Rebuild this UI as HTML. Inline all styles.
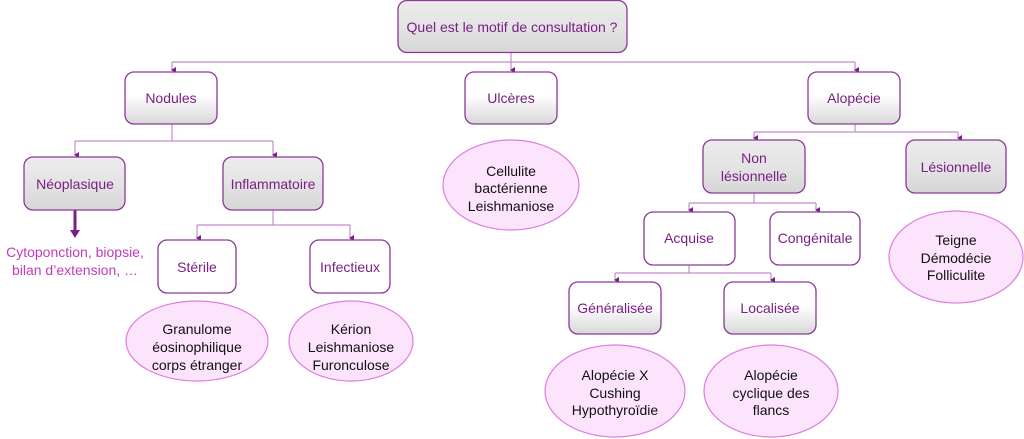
<!DOCTYPE html><html><head><meta charset="utf-8"><style>body{margin:0;background:#fff}svg{display:block}text{font-family:"Liberation Sans",sans-serif;font-size:14px;text-anchor:middle}</style></head><body>
<svg width="1024" height="439" viewBox="0 0 1024 439">
<defs>
<linearGradient id="g" x1="0" y1="0" x2="0" y2="1"><stop offset="0" stop-color="#ececec"/><stop offset="0.5" stop-color="#e4e4e4"/><stop offset="1" stop-color="#d6d6d6"/></linearGradient>
<linearGradient id="g2" x1="0" y1="0" x2="0" y2="1"><stop offset="0" stop-color="#fff"/><stop offset="0.45" stop-color="#fff"/><stop offset="1" stop-color="#d8d8d8"/></linearGradient>
<marker id="a" markerWidth="6" markerHeight="6" refX="3" refY="5" orient="auto" markerUnits="userSpaceOnUse"><path d="M0,1 L6,1 L3,6 z" fill="#7a1f85"/></marker>
</defs>
<g stroke="#c58ccd" stroke-width="1.2" fill="none">
<path d="M511,53 V70" marker-end="url(#a)"/>
<path d="M172,62 H855"/><path d="M172,62 V70" marker-end="url(#a)"/><path d="M855,62 V70" marker-end="url(#a)"/>
<path d="M172,124 V141 M75,141 H273"/><path d="M75,141 V155" marker-end="url(#a)"/><path d="M273,141 V155" marker-end="url(#a)"/>
<path d="M273,210 V225 M197,225 H350"/><path d="M197,225 V238" marker-end="url(#a)"/><path d="M350,225 V238" marker-end="url(#a)"/>
<path d="M855,124 V132 M754,132 H958"/><path d="M754,132 V138" marker-end="url(#a)"/><path d="M958,132 V138" marker-end="url(#a)"/>
<path d="M754,193 V203 M689,203 H816"/><path d="M689,203 V210" marker-end="url(#a)"/><path d="M816,203 V210" marker-end="url(#a)"/>
<path d="M689,265 V273 M615,273 H771"/><path d="M615,273 V280" marker-end="url(#a)"/><path d="M771,273 V280" marker-end="url(#a)"/>
</g>
<path d="M75,210 V232" stroke="#7a1f85" stroke-width="3"/><path d="M70,230 L80,230 L75,238 z" fill="#7a1f85"/>
<g stroke="#8a3a96" stroke-width="1.3">
<rect x="398" y="0.5" width="229" height="52" rx="9" fill="url(#g)"/>
<rect x="125" y="72" width="92" height="52" rx="9" fill="url(#g2)"/>
<rect x="465" y="72" width="92" height="52" rx="9" fill="url(#g2)"/>
<rect x="808" y="72" width="92" height="52" rx="9" fill="url(#g2)"/>
<rect x="24" y="157" width="101" height="53" rx="9" fill="url(#g)"/>
<rect x="223" y="157" width="100" height="53" rx="9" fill="url(#g)"/>
<rect x="158" y="240" width="78" height="53" rx="9" fill="#fff"/>
<rect x="310" y="240" width="80" height="53" rx="9" fill="#fff"/>
<rect x="703" y="140" width="102" height="53" rx="9" fill="url(#g)"/>
<rect x="906" y="140" width="100" height="53" rx="9" fill="url(#g)"/>
<rect x="644" y="212" width="91" height="53" rx="9" fill="#fff"/>
<rect x="770" y="212" width="90" height="53" rx="9" fill="#fff"/>
<rect x="569" y="282" width="92" height="52" rx="9" fill="url(#g2)"/>
<rect x="724" y="282" width="92" height="52" rx="9" fill="url(#g2)"/>
</g>
<g fill="#fce4fc" stroke="#e07ce0" stroke-width="1.2">
<ellipse cx="511" cy="185" rx="68" ry="45"/>
<ellipse cx="197" cy="341" rx="71" ry="40"/>
<ellipse cx="351" cy="341" rx="62" ry="40"/>
<ellipse cx="615" cy="391" rx="70" ry="46"/>
<ellipse cx="771" cy="391" rx="67" ry="46"/>
<ellipse cx="956" cy="257" rx="67" ry="46"/>
</g>
<g fill="#7a1f85">
<text x="512" y="32">Quel est le motif de consultation ?</text>
<text x="171" y="103">Nodules</text>
<text x="511" y="103">Ulcères</text>
<text x="854" y="103">Alopécie</text>
<text x="75" y="189">Néoplasique</text>
<text x="273" y="189">Inflammatoire</text>
<text x="197" y="272">Stérile</text>
<text x="350" y="272">Infectieux</text>
<text x="754" y="163">Non</text><text x="754" y="181">lésionnelle</text>
<text x="956" y="172">Lésionnelle</text>
<text x="689" y="243">Acquise</text>
<text x="815" y="243">Congénitale</text>
<text x="615" y="313">Généralisée</text>
<text x="770" y="313">Localisée</text>
</g>
<g fill="#c03cbc"><text x="75" y="257">Cytoponction, biopsie,</text><text x="75" y="275">bilan d’extension, …</text></g>
<g fill="#111">
<text x="511" y="176">Cellulite</text><text x="511" y="193">bactérienne</text><text x="511" y="211">Leishmaniose</text>
<text x="197" y="334">Granulome</text><text x="197" y="352">éosinophilique</text><text x="197" y="370">corps étranger</text>
<text x="351" y="334">Kérion</text><text x="351" y="352">Leishmaniose</text><text x="351" y="370">Furonculose</text>
<text x="615" y="380">Alopécie X</text><text x="615" y="398">Cushing</text><text x="615" y="415">Hypothyroïdie</text>
<text x="771" y="380">Alopécie</text><text x="771" y="398">cyclique des</text><text x="771" y="415">flancs</text>
<text x="956" y="245">Teigne</text><text x="956" y="263">Démodécie</text><text x="956" y="280">Folliculite</text>
</g>
</svg></body></html>
